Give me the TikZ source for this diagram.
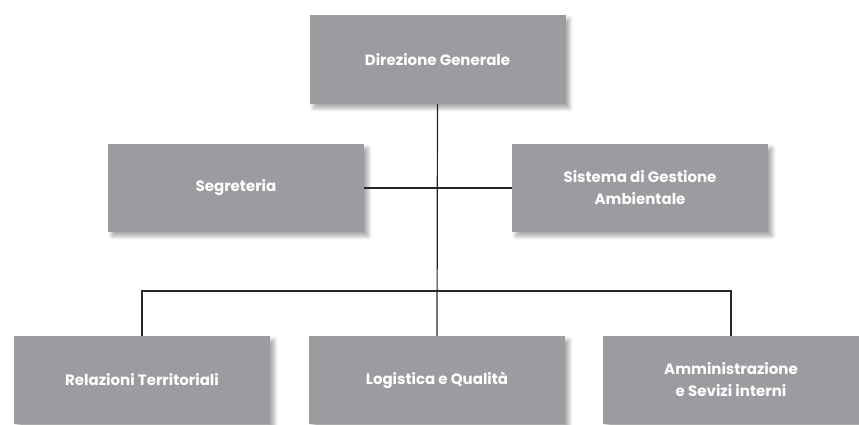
\documentclass[tikz,border=0pt]{standalone}
\usepackage{fontspec}
\setmainfont{Poppins}
\usetikzlibrary{shadows.blur}
\definecolor{boxgray}{HTML}{9A9C9F}
\begin{document}
\begin{tikzpicture}[x=1pt,y=-1pt,
  orgbox/.style={fill=boxgray, draw=none, minimum width=256pt, minimum height=88pt,
    text=white, font=\fontsize{15}{22}\selectfont\bfseries, align=center, inner sep=0pt,
    blur shadow={shadow xshift=4pt, shadow yshift=-4pt, shadow blur radius=4pt, shadow opacity=35}},
  link/.style={draw=black!85, line width=1.2pt}]
\useasboundingbox (0,0) rectangle (859,424);
\node[orgbox, minimum height=89pt] (t) at (437.5,59.5) {Direzione Generale};
\node[orgbox] (s) at (236,188) {Segreteria};
\node[orgbox] (g) at (640,188) {Sistema di Gestione\\Ambientale};
\node[orgbox] (r) at (142,380) {Relazioni Territoriali};
\node[orgbox] (l) at (437,380) {Logistica e Qualità};
\node[orgbox] (a) at (731,380) {Amministrazione\\e Sevizi interni};
\coordinate (bus) at (437,291);
\draw[link] (t.south) -- (l.north);
\draw[link] (s.east) -- (g.west);
\draw[link] (r.north) |- (bus) -| (a.north);
\end{tikzpicture}
\end{document}
